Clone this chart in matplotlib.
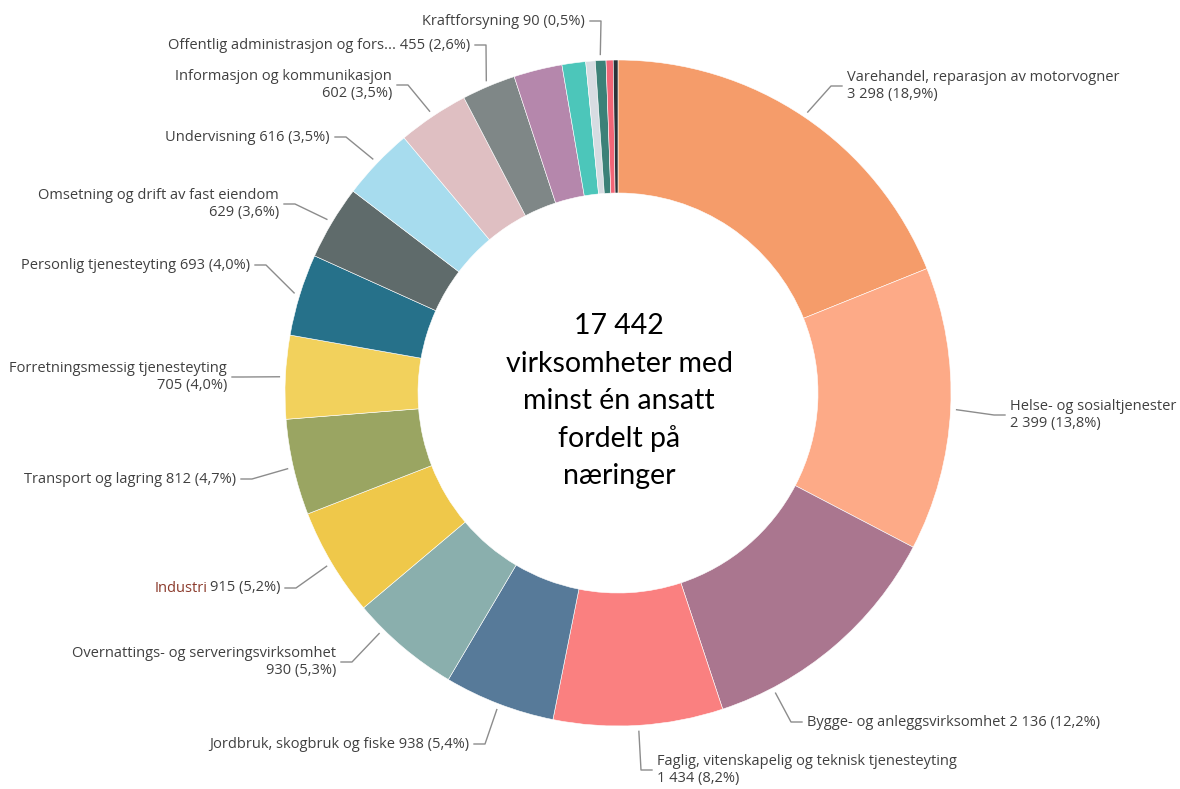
import numpy as np
import matplotlib.pyplot as plt

# data, clockwise from 12 o'clock
names = ["Varehandel, reparasjon av motorvogner", "Helse- og sosialtjenester",
         "Bygge- og anleggsvirksomhet", "Faglig, vitenskapelig og teknisk tjenesteyting",
         "Jordbruk, skogbruk og fiske", "Overnattings- og serveringsvirksomhet",
         "Industri", "Transport og lagring", "Forretningsmessig tjenesteyting",
         "Personlig tjenesteyting", "Omsetning og drift av fast eiendom",
         "Undervisning", "Informasjon og kommunikasjon",
         "Offentlig administrasjon og fors...", "Kulturell virksomhet",
         "Finansiering og forsikring", "Vannforsyning og renovasjon",
         "Kraftforsyning", "Bergverksdrift", "Uoppgitt"]
values = [3298, 2399, 2136, 1434, 938, 930, 915, 812, 705, 693, 629, 616, 602,
          455, 410, 200, 80, 90, 60, 40]
# label text (None = no label shown)
label_texts = [
    "Varehandel, reparasjon av motorvogner\n3 298 (18,9%)",
    "Helse- og sosialtjenester\n2 399 (13,8%)",
    "Bygge- og anleggsvirksomhet 2 136 (12,2%)",
    "Faglig, vitenskapelig og teknisk tjenesteyting\n1 434 (8,2%)",
    "Jordbruk, skogbruk og fiske 938 (5,4%)",
    "Overnattings- og serveringsvirksomhet\n930 (5,3%)",
    "Industri 915 (5,2%)",
    "Transport og lagring 812 (4,7%)",
    "Forretningsmessig tjenesteyting\n705 (4,0%)",
    "Personlig tjenesteyting 693 (4,0%)",
    "Omsetning og drift av fast eiendom\n629 (3,6%)",
    "Undervisning 616 (3,5%)",
    "Informasjon og kommunikasjon\n602 (3,5%)",
    "Offentlig administrasjon og fors... 455 (2,6%)",
    None, None, None,
    "Kraftforsyning 90 (0,5%)",
    None, None]
colors = ["#F59C6A", "#FDAA87", "#AA768F", "#FA8080", "#577A99", "#8AAFAD",
          "#EFC84A", "#9AA562", "#F2D15C", "#26718A", "#5F6B6B", "#A7DCEE",
          "#DFBFC2", "#7F8787", "#B587AC", "#4CC6BA", "#D7DCE2", "#3C8178",
          "#F26677", "#2B3338"]
center_lines = ["17 442", "virksomheter med", "minst én ansatt", "fordelt på", "næringer"]

# label anchor positions in pixels (x, y from top), side +1 right / -1 left,
# optional connector start angle (degrees clockwise from top) where it is shifted
label_pos = [(847, 86, 1), (1010, 415, 1), (807, 722, 1, 152.3), (657, 770, 1),
             (469, 744, -1), (336, 662, -1, 224.8), (280, 588, -1), (236, 479, -1),
             (227, 377, -1), (250, 265, -1), (279, 204, -1), (330, 137, -1),
             (392, 85, -1), (470, 45, -1), None, None, None, (585, 21, -1),
             None, None]

W, H = 1180, 789
cx, cy = 618, H - 393
R = 333

fig = plt.figure(figsize=(11.8, 7.89), dpi=100)
ax = fig.add_axes([0, 0, 1, 1])

wedges, _ = ax.pie(values, colors=colors, startangle=90, counterclock=False,
                   center=(cx, cy), radius=R,
                   wedgeprops=dict(width=133, edgecolor="white", linewidth=0.4))
# pie() resets the limits, so set them afterwards
ax.set_xlim(0, W)
ax.set_ylim(0, H)
ax.set_aspect("equal")
ax.axis("off")

txt_color = "#404040"
for w, lab, pos in zip(wedges, label_texts, label_pos):
    if lab is None:
        continue
    if len(pos) == 4:
        ang = np.deg2rad(90 - pos[3])
    else:
        ang = np.deg2rad((w.theta1 + w.theta2) / 2)
    sx = cx + (R + 6) * np.cos(ang)
    sy = cy + (R + 6) * np.sin(ang)
    tx, ty, side = pos[:3]
    ty = H - ty
    ex = tx - side * 5
    kx = tx - side * 16
    ax.plot([sx, kx, ex], [sy, ty, ty], color="#8c8c8c", lw=1)
    ha = "left" if side > 0 else "right"
    if lab.startswith("Industri"):
        t1 = ax.text(tx, ty, "915 (5,2%)", ha="right", va="center", fontsize=10.5,
                     family="Open Sans", color=txt_color)
        ax.annotate("Industri", xy=(0, 0.5), xycoords=t1, xytext=(-2.5, 0),
                    textcoords="offset pixels", ha="right", va="center",
                    fontsize=10.5, family="Open Sans", color="#8B3A2B")
    else:
        ax.text(tx, ty, lab, ha=ha, va="center", fontsize=10.5, family="Open Sans",
                color=txt_color, multialignment=ha, linespacing=1.25)

# centre text, cut at the bottom like the original
clip = plt.Rectangle((cx - 200, H - 487), 400, 300, transform=ax.transData)
for i, line in enumerate(center_lines):
    t = ax.text(cx + 1, H - (326 + i * 37.5), line, ha="center", va="center",
                fontsize=20.5, family="Lato", color="black")
    t.set_clip_path(clip)

fig.savefig("out.png", dpi=100, facecolor="white")
